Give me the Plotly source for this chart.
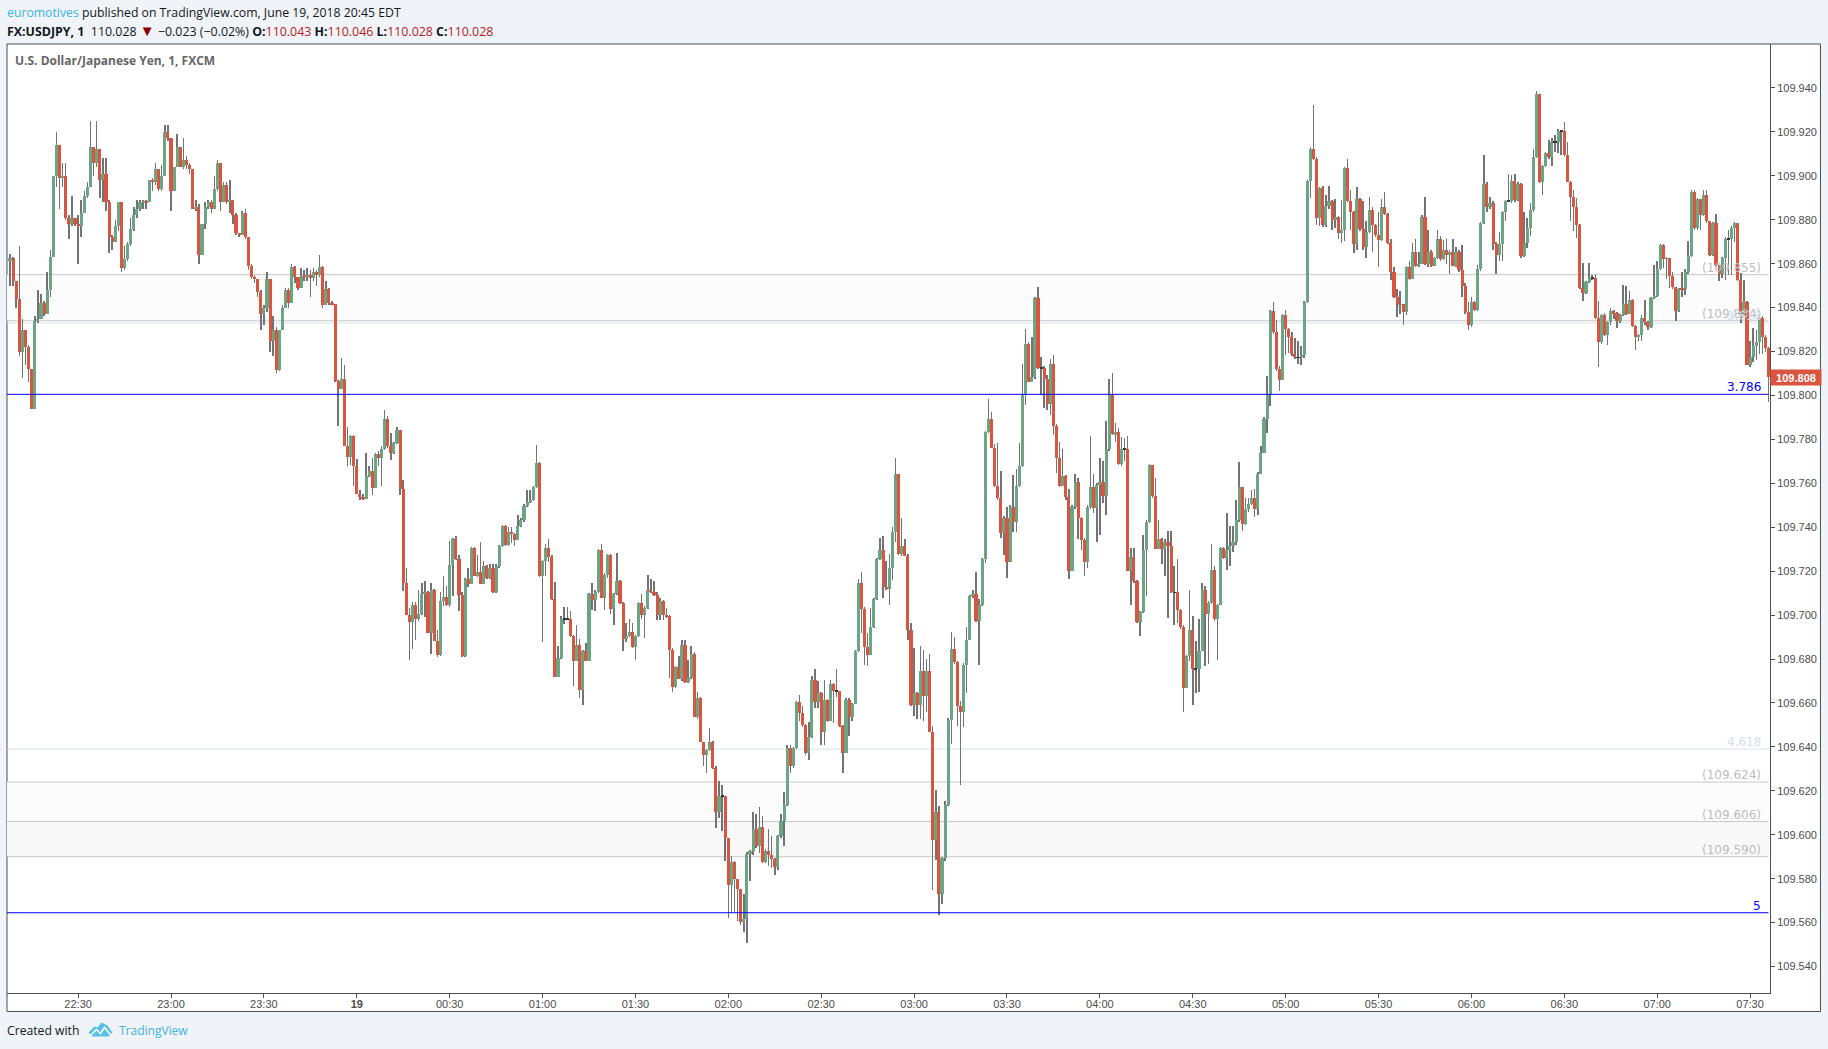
import plotly.graph_objects as go

# Prices are thousandths above 109 (862.5 means 109.8625)
first_open = 861
closes = [
862.5,852,844,820,830,822,812,794,834,835,
842,837,848,863,900,914,899,900,881,878,
881,878,877,883,891,895,913,906,912,898,
901,888,872,870,877,888,858,862,869,876,
882,885,888,888.5,888,898,897,903,894,900,
920,917,893,904,913,904,907,905,903,885,
886,864,878,886,888,885,894,906,888,896,
888,889,882,874,873,883,872,859,854,853,
847,837,840,853,825,830,811.5,830,840,848,
842,858.5,854,849,854.4,854,855,853.3,856,855,
858.4,841,848.4,842.3,841.5,806.4,803,807.6,777,772,
781.6,768,755,753.8,753,763.5,765.7,758,773.5,771.3,
775.6,789.4,777,773.8,778.3,784.4,757.4,714.6,700.2,697,
704.8,698,700.5,709.6,710.5,692,711.6,688.4,682,706.6,
708.4,704.4,723,734.6,725.5,709.3,681.2,716.6,714.3,730.5,
718,719.6,714.3,722.5,717,721.4,710.4,722.5,731.6,740.7,
732,738,737,734.3,740.7,743.4,749.5,751.6,752.5,758.3,
769.2,718,724.8,730.5,726.4,707.3,672,680.5,698.2,698.2,
698.2,690.3,679.3,686.6,666,683.8,679.3,709.6,707,710.5,
729.8,708,718.4,727.5,703,709.6,715.7,705.5,689.3,690.7,
692.5,685.4,690.7,705.5,700.2,703.2,711.6,710.4,709.3,700.2,
706.6,700.2,699.5,684.3,667.1,676.5,671,686.6,669.4,671.4,
682.5,653.5,662.3,642.2,636.2,638.7,642.2,630.4,610.2,617.5,
617.5,598.4,577.3,587.6,580,575.3,560.2,561.7,591.3,592.5,
602.8,595,603.5,587.5,592.8,591,589,585.2,599.3,606.4,
613.4,639.5,631.2,639.5,660.4,655.4,650,637,644.5,670.6,
660.3,664.5,647,661.5,652,668.8,665.3,665.3,649.4,637,
661.5,653.5,659.7,683.8,714.6,703,685.5,682,694.6,707.4,
725.7,729.7,713,712,721.4,738,764.3,727.9,731.6,727,
693,659.2,664.5,659,674.7,663.3,674.7,647,597.5,610.5,
573,589.4,613.4,652.4,684.5,678.5,658.5,656,677.4,688.8,
708.6,709.8,697.2,704.8,725.7,783.3,789.2,776.3,759,753.2,
737.3,744,724.4,749,742.2,759,768,800.3,823.3,806.3,
808.3,844.3,812.4,812.4,807.4,796,814.2,786.3,771.5,759,
763.4,753.7,720.2,749,760.5,744,734.3,724.4,749,758.3,
748.8,759.3,760.5,754,775.7,800.3,782.4,783.3,769,775.5,
775.5,720,726.4,715.3,697,701.4,729.7,742.3,768.4,754,
730.2,734.6,730.2,733.2,731.3,710.3,710.3,702.1,694.4,667,
681.2,693.3,675.4,675.4,683.8,711.5,700.5,705.5,720.6,698.2,
704.7,730.5,726.2,729.7,731.6,733.2,743.4,758.3,741.4,748.2,
750.7,753.2,748.2,764.2,774,789.2,800.3,838.5,829,812.1,
807,836.7,830.2,826.4,819,817.3,817.3,818.5,842.5,897.7,
912.3,907.5,881,894.4,877.4,886.3,888.6,880,881.3,874,
875.4,903.5,888.3,883.3,869,889.5,875.8,867.4,874.2,884.5,
877.4,873.1,870.8,885.6,882.5,869.3,856,845,841.3,841.6,
838.2,858.4,853,865.2,859,860,881.3,860,865.2,859,
862.5,871.3,862,866.3,864,865.2,859,865.2,857,850,
838,832,842.5,839,857.5,878.4,896.3,886,887.8,869,
864,869,883.6,888.6,888.6,897.7,889,896.3,863.3,869.3,
876.2,884.5,908.5,937.3,897.4,904.3,910.3,908.4,915.3,915.3,
920.5,920.5,909.3,897.4,890.3,886,877.4,849,846.6,851.5,
853.4,853.4,835.2,824.2,836.5,827.4,833.4,838.3,837.5,834,
836.4,841.6,837.2,843.6,831.5,826.4,827.7,835.2,833.3,831,
844.3,845.4,857.5,868.6,862.2,862.5,854.2,849.2,838.3,848.6,
848.4,856.2,863.3,892.6,876.2,889.4,882.3,891.4,879.2,864,
878.5,859.2,855.3,862.5,871.2,871.2,876.2,878.5,852.7,836.5,
842.5,814,817.3,822.6,824.2,835.2,826.4,821.6,808.2,
]
highs = [
864.5,863,852,868,835,830,823,812,836,848,
846,843,856,866,900,920,914,906,906,882,
891,881,882,889,893,897,925,913,925,912,
908,908,889,873,880,888,888,868,870,881,
886,889,889,889,889,898,899,906,903,905,
923,923,917,904,919,913,917,909,906,903,
889,887,878,888,889,889,900,907,906,897,
897,898,889,883,874,884,885,872,860,855,
853,848,841,856,853,836,831,830,841,849,
849,860,859,854,858,857,858,857,858,857,
864,859,852,849,843,841.5,807,817,814,785.6,
782,782,771,757,755,774,768,771.5,774,774.5,
777,793.5,790.7,783,779,785.6,784.4,761.6,721.5,703.3,
706,706,711.6,714.6,715.7,711,714.6,712,693.4,710.5,
717.6,713.4,733.6,735,735.8,727.5,710.5,717,721.5,731,
731,727.5,733.5,724.5,723,723.4,723.4,723.4,732,741,
741,740,740,737.5,745.7,744.2,750.7,756.8,756.8,758.6,
777.5,769.5,725,732.4,734.8,727.5,714.9,685.8,699.5,703.6,
703.6,701.7,691,695.6,689,684,687.3,710,714.6,711.6,
730,732.4,719,728,728,710,728.3,716,706,696.4,
698.2,696.4,691,706,709.6,704,718.4,716.6,715.7,710.5,
707.8,707,703.2,700,685,677,681.5,688.8,688.8,679.7,
685.8,683,664.8,662.5,642,639,648.6,642.5,631.3,624.6,
622.8,617.8,598.6,590.2,588,580,575.5,572.8,592,593,
610.4,609.6,612.7,608.7,593.5,602.6,599.3,589.6,600,609.6,
619.5,641,641,640,661,663.8,658.8,650.2,651.3,672.4,
675.6,669.8,665,670.6,662,670.6,669,675.6,665.5,650,
662.3,662.3,660,684,716.6,719.6,703.5,692,703.3,708,
726,735,736,724.7,728,740.3,771.6,764.3,744,734.6,
728,696.4,685,665,685.8,684,680,682.5,649.7,620.5,
612.9,590,615.5,653,692.3,690,679,660.7,678,694.6,
709,711.6,719.6,707.4,726,784,798.3,792.4,778,778.3,
765.6,745,749,750,763.6,766.4,778.3,814.2,830.3,824.5,
826.5,845,849.5,817.4,813.5,809.4,816.6,818.5,787,779,
775.7,764,757.3,750,764.2,762.3,744.5,735,750,781.7,
764.3,760,771.7,770,788.4,807.5,810,787.4,785,781.3,
780.5,781.6,730.5,730.5,716,702,736.6,743.4,769,768.4,
762.3,743.4,735,734.6,738.5,738.5,722.5,725.5,703,695.3,
681.7,711.5,699.6,688,698.2,714.8,713.4,706.5,732.4,722.5,
705,731,731,746.7,740.4,740.4,752.5,769.5,758.5,753.2,
753.2,757,757.3,765,776.8,790,809,839,842.7,834.5,
813.5,837,838.7,830.5,829,826,824.6,822.6,843,898,
913,932.3,908.5,895,895.4,891.3,895.4,889,889.5,881.5,
889,904,907.7,893.6,884,895.1,890,888.6,879.5,890.3,
885.6,878,883.4,889.5,892.5,883,871.3,858.7,848.5,847.6,
841.6,859,861.3,869.3,871.3,865.5,882,890.3,875.4,866,
863,875.4,872.8,870.8,871.3,866,871.3,867.8,866,868.6,
851,842.5,844.6,843,859.4,879,909.5,897,890.3,888.6,
870,874.3,884,889,901,900.4,901,897,896.5,883.7,
880.7,887.5,912,938.6,937.3,905,911,916.4,917.2,918.7,
921.4,921,924.4,915.6,897.7,893.6,890,878,860.3,852,
860.3,855,855.4,842.8,837,837.5,834,839.8,839,838,
837,850.4,849.6,847.4,844,832,828,836.8,843.6,834,
845,859.5,861.3,869,869,863,862.8,856.2,849.5,849,
856.2,857.5,870.1,893.6,893.6,890,889.5,893.6,893.6,879.5,
879,882.7,859.5,863,872,875.4,877,879,878.5,855.7,
852.7,843,825,830.7,830,837.2,836,827.6,822,
]
lows = [
850,850,840,818,808,814,806,794,794,833,
835,836,837,845,863,895,885,895,880,871,
877,877,860,872,883,890,895,900,904,890,
888,884,865,866,870,875,856,857,861,868,
875,881,884,885,885,888,893,896,893,893,
900,916,884,893,904,904,903,903,901,885,
884,860,864,876,885,883,885,893,884,888,
887,883,878,873,872,873,871,857,853,851,
845,830,832,838,820,818,810,811,830,840,
840,842,851,848,849,852,852,845,852,850,
854,840,841,841,841,806,786,803,777,768,
768.5,759,755,752.5,752.5,753,763,754.5,758,767.7,
758.6,775,776,770.7,773.5,778,754.5,710.8,700,679.7,
684.7,688.8,697.5,700,699,692,682.4,688,681,681.5,
704,704,703.6,708.5,725,701.7,680.8,681,713,714,
717.7,717.5,714,714,716.5,716.5,710,710,721.5,731,
731.5,731.5,733,731.6,734,740,742.5,749,751,752,
758,717.5,687.6,718,724,707,672,672,680,695.8,
698,690,667.6,679,662.3,659,679,679,702.5,701.7,
710,708,702.5,717,700.5,695.6,709,705,683.8,687.6,
690,685,679.7,690,698.2,689.6,703,710,708.5,697.6,
697.6,697.6,698.5,671.4,664.8,666.7,671,670,669,669,
671,653.5,652.7,642,631.5,628.1,638,630,603,607.6,
601.6,588,562.1,564.4,565,560.6,558.8,555.6,550.8,578.8,
591,594,591.7,587,587,585.6,584.9,581.9,583.8,598.5,
594.7,613,628.1,630.5,639,651.6,649,636.5,633.9,644,
657.7,657.7,640.7,640.7,651.5,652,650.9,662.6,649,628.1,
637,644.8,652,659.5,683,692,677.5,676.7,682,694,
707,725,707.7,711.5,704.7,716,733.5,727.5,726.7,726.7,
688.8,658.7,654,652.5,652.5,652,656,647,575,588.7,
563.6,568.6,588,613,641.5,677.6,649.7,622.8,648.9,664.5,
688.5,708,697,677.5,704,723.6,783,776,758.5,752.5,
735,727.4,716.8,724,738,738,758.5,767.5,795.7,806,
806,807.5,812,800.3,794.5,793.5,790.9,781.8,764.6,758.5,
759,752.5,716.6,720,748.5,734.7,729.7,717.6,721.4,748.5,
746.7,733.5,736.5,751,745.7,774.5,782,778.7,768.5,768,
770,720,704.7,714.5,696.5,690.7,701,708.5,742,753.5,
730,730,723.4,717.6,698.5,710,695.6,696.4,693.5,655.7,
667,679,659,664.5,664.8,683.5,677,677.8,705,697.5,
679.7,713.5,725.5,720.6,722.5,728.7,731.7,742.5,738.5,740.8,
747,750,744.6,745.7,768.7,782.8,783,795,828,811,
802,807,818.5,819.3,818,816.5,814.4,813.7,817,842,
889.8,907,877.7,877,876.5,876.6,885,875.4,876.1,871.3,
869.3,870.5,888,875.4,864.8,866.3,875,866.3,862.8,874,
865.5,872,858.7,870.5,882,869,852.6,844.5,835.5,837.2,
831.9,836.7,852.5,853,858.5,858.5,860,859.5,858.7,858.7,
859,862,861.4,861.5,860,855.4,859,858.5,856,844.6,
837,829.6,831,838.5,838.5,856.5,878,883.7,885,866.3,
855.4,861.4,861,879.4,888,887.5,888,888.5,862.8,863,
867,872.8,883.7,908,896.7,891.4,904,907.5,904.5,911,
910.3,909.6,909,897,879.5,874.7,871.6,848.5,842.8,846,
851,852.5,835,812.9,823.5,827,822.8,832,835,830.7,
833,836,836.5,837,831,820.5,824.6,824.6,832,830,
830.7,844,845,857,858,853,848.9,848.5,833.7,838,
844.6,845.9,855.5,863,875.5,875.5,875.4,881.5,878.5,863.5,
863.5,858.5,852,853.5,852.7,854.7,855,870,852,833,
836,813.7,813,815,816.3,819,818.8,820,797,
]

tick_minutes = [22, 52, 82, 112, 142, 172, 202, 232, 262, 292, 322, 352, 382, 412, 442, 472, 502, 532, 562]
tick_labels = ["22:30", "23:00", "23:30", "<b>19</b>", "00:30", "01:00", "01:30", "02:00", "02:30", "03:00",
               "03:30", "04:00", "04:30", "05:00", "05:30", "06:00", "06:30", "07:00", "07:30"]
price_ticks = [109.54, 109.56, 109.58, 109.60, 109.62, 109.64, 109.66, 109.68, 109.70, 109.72, 109.74,
               109.76, 109.78, 109.80, 109.82, 109.84, 109.86, 109.88, 109.90, 109.92, 109.94]

level_values = [109.855, 109.834, 109.624, 109.606, 109.590]
level_labels = ["(109.855)", "(109.834)", "(109.624)", "(109.606)", "(109.590)"]
fib_values = [109.833, 109.639]
fib_labels = ["3.618", "4.618"]
blue_values = [109.8005, 109.5645]
blue_labels = ["3.786", "5"]
zone_bands = [(109.834, 109.855, "#fcfcfc"), (109.606, 109.624, "#fcfcfc"), (109.590, 109.606, "#f8f8f8")]
last_price = 109.808

RED, GREEN, WICK = "#d9553f", "#6ba583", "#737375"
W, H = 1828, 1049
L, R, T, B = 6.5, 1770.5, 43.5, 993.5
PX_PER_BAR = 3.098
X0 = 9.5

def px(x):
    return (x - L) / (R - L)

def py(y):
    return 1 - (y - T) / (B - T)

def price(v):
    return 109 + v / 1000

minutes = list(range(len(closes)))
opens = [first_open] + closes[:-1]
o = [price(v) for v in opens]
c = [price(v) for v in closes]
hi = [max(price(a), x, y) for a, x, y in zip(highs, o, c)]
lo = [min(price(a), x, y) for a, x, y in zip(lows, o, c)]

fig = go.Figure()
fig.add_trace(go.Bar(x=minutes, y=[a - b for a, b in zip(hi, lo)], base=lo, width=0.16,
                     marker=dict(color=WICK, line_width=0), hoverinfo="skip"))
body_y, body_base, body_col = [], [], []
for a, b in zip(o, c):
    if abs(a - b) < 1e-9:
        body_y.append(0.0004)
        body_base.append(a - 0.0002)
        body_col.append("#2f3a36")
    else:
        body_y.append(abs(a - b))
        body_base.append(min(a, b))
        body_col.append(GREEN if b > a else RED)
fig.add_trace(go.Bar(x=minutes, y=body_y, base=body_base, width=1.0,
                     marker=dict(color=body_col, line_width=0), hoverinfo="skip"))

shapes = [dict(type="rect", xref="paper", yref="paper", x0=px(6.5), x1=px(1821), y0=py(43.5), y1=py(1012),
               fillcolor="#ffffff", line=dict(color="#4c4f55", width=1), layer="below")]
line_end = px(1769)
for a, b, col in zone_bands:
    shapes.append(dict(type="rect", xref="paper", yref="y", x0=0, x1=line_end, y0=a, y1=b,
                       fillcolor=col, line_width=0, layer="below"))
for v in level_values:
    shapes.append(dict(type="line", xref="paper", yref="y", x0=0, x1=line_end, y0=v, y1=v,
                       line=dict(color="#c8c8c8", width=1), layer="below"))
for v in fib_values:
    shapes.append(dict(type="line", xref="paper", yref="y", x0=0, x1=line_end, y0=v, y1=v,
                       line=dict(color="#d3e2f0", width=1), layer="below"))
for v in blue_values:
    shapes.append(dict(type="line", xref="paper", yref="y", x0=0, x1=line_end, y0=v, y1=v,
                       line=dict(color="#0000ff", width=1), layer="above"))

# TradingView cloud logo
logo = [(88, 1033), (94, 1027), (97, 1028), (101, 1023), (107, 1026), (112, 1033), (108, 1037), (92, 1037)]
path = "M " + " L ".join(f"{px(a):.5f} {py(b):.5f}" for a, b in logo) + " Z"
shapes.append(dict(type="path", xref="paper", yref="paper", path=path, fillcolor="#5bc0e8", line_width=0))
zig = [(90, 1036), (96, 1030), (100, 1034), (104, 1028), (110, 1035)]
path2 = "M " + " L ".join(f"{px(a):.5f} {py(b):.5f}" for a, b in zig)
shapes.append(dict(type="path", xref="paper", yref="paper", path=path2, line=dict(color="#ffffff", width=1.5)))

anns = []
def text_at(x, y, s, size=12, color="#131722", family="Open Sans", anchor="left"):
    anns.append(dict(xref="paper", yref="paper", x=px(x), y=py(y), text=s, showarrow=False, xanchor=anchor,
                     yanchor="middle", borderpad=0, font=dict(family=family, size=size, color=color)))

red_txt = "#b71c1c"
def red(s):
    return f'<span style="color:{red_txt}">{s}</span>'

text_at(5, 11.5, '<span style="color:#3bb3e4">euromotives</span> published on TradingView.com, June 19, 2018 20:45 EDT', size=12.25)
text_at(5, 29.5, '<b>FX:USDJPY, 1</b>\u00a0\u00a0110.028 <span style="color:#8b0000;font-size:15px">▼</span> −0.023 (−0.02%) '
        f'<b>O:</b>{red("110.043")} <b>H:</b>{red("110.046")} <b>L:</b>{red("110.028")} <b>C:</b>{red("110.028")}', size=12.4)
text_at(14, 60, "<b>U.S. Dollar/Japanese Yen, 1, FXCM</b>", color="#666666")
text_at(5, 1031, "Created with", size=12.2)
text_at(118, 1031, "TradingView", color="#3bb3e4")

def level_label(v, s, col):
    anns.append(dict(xref="paper", yref="y", x=px(1762.5), y=v, text=s, showarrow=False, xanchor="right",
                     yanchor="bottom", yshift=-1, borderpad=0, font=dict(family="DejaVu Sans", size=12, color=col)))

for v, s in zip(level_values, level_labels):
    level_label(v, s, "#bdbdbd")
for v, s in zip(fib_values, fib_labels):
    level_label(v, s, "#cfe0f0")
for v, s in zip(blue_values, blue_labels):
    level_label(v, s, "#0000ff")

anns.append(dict(xref="paper", yref="y", x=px(1771), y=last_price, text=f"<b>{last_price:.3f}</b>", showarrow=False,
                 xanchor="left", yanchor="middle", width=50, height=15, bgcolor=RED, borderpad=0, align="center",
                 font=dict(family="Liberation Sans", size=11, color="#ffffff")))

fig.update_layout(
    width=W, height=H, autosize=False, showlegend=False, barmode="overlay", bargap=0,
    paper_bgcolor="#f0f3f7", plot_bgcolor="rgba(0,0,0,0)",
    margin=dict(l=L, r=W - R, t=T, b=H - B, pad=0),
    shapes=shapes, annotations=anns,
    font=dict(family="Liberation Sans", size=11, color="#4c4c4c"),
)
fig.update_xaxes(range=[(L - X0) / PX_PER_BAR, (R - X0) / PX_PER_BAR], tickmode="array",
                 tickvals=tick_minutes, ticktext=tick_labels, ticks="outside", ticklen=4, tickcolor="#4c4f55",
                 showgrid=False, zeroline=False, showline=True, linecolor="#4c4f55", linewidth=1,
                 ticklabelstandoff=-3,
                 tickfont=dict(family="Liberation Sans", size=11, color="#4c4c4c"))
fig.update_yaxes(range=[109.52795, 109.9600], side="right", tickmode="array", tickvals=price_ticks,
                 ticktext=[f"{v:.3f}" for v in price_ticks], ticks="outside", ticklen=4, tickcolor="#4c4f55",
                 showgrid=False, zeroline=False, showline=True, linecolor="#4c4f55", linewidth=1,
                 tickfont=dict(family="Liberation Sans", size=11, color="#4c4c4c"))

assert len(closes) == len(highs) == len(lows), (len(closes), len(highs), len(lows))
fig.write_html("out.html", config={"displayModeBar": False},
               post_script="document.body.style.margin='0';document.body.style.overflow='hidden';")
